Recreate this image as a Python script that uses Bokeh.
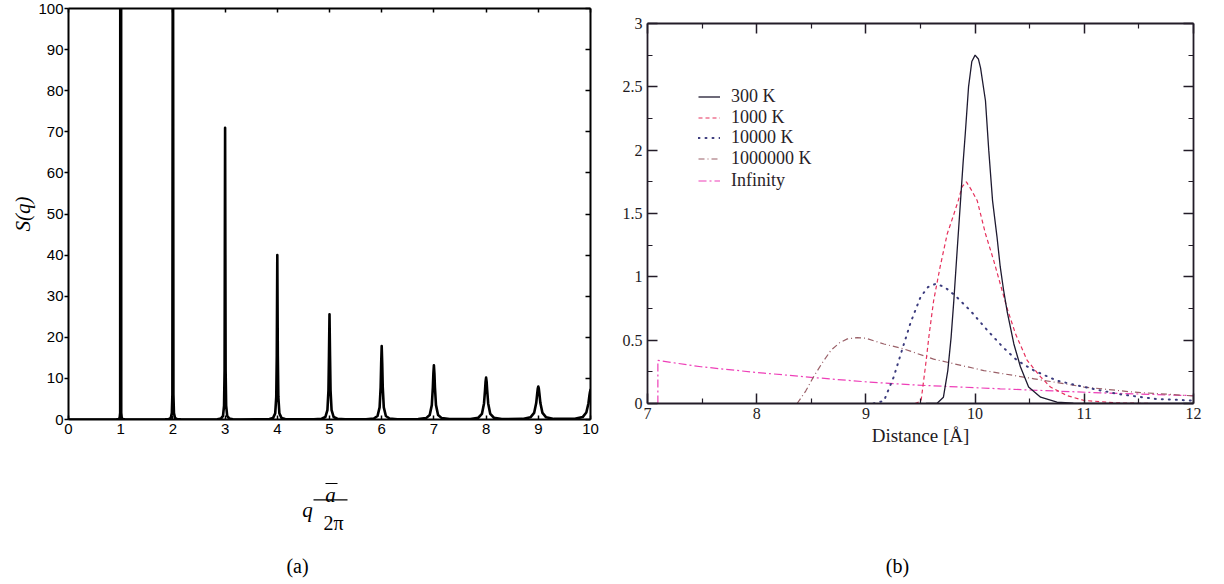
from bokeh.plotting import figure
from bokeh.models import (Range1d, LinearAxis, FixedTicker, Label, Legend,
                          LegendItem, BoxAnnotation)
from bokeh.layouts import row, column
from bokeh.embed import file_html
from bokeh.resources import INLINE

# ---------------- panel (a): structure factor S(q) ----------------
peak_q = [1, 2, 3, 4, 5, 6, 7, 8, 9, 10]
peak_offsets = [-0.3, -0.15, -0.08, -0.04, -0.02, -0.01, 0.0,
                0.01, 0.02, 0.04, 0.08, 0.15, 0.3]
peak_profiles = [
    [0.002, 0.007, 0.025, 0.10, 0.40, 1.6, 640.0, 1.6, 0.40, 0.10, 0.025, 0.007, 0.002],
    [0.007, 0.028, 0.099, 0.39, 1.56, 6.1, 160.0, 6.1, 1.56, 0.39, 0.099, 0.028, 0.007],
    [0.016, 0.063, 0.22, 0.88, 3.4, 11.9, 71.0, 11.9, 3.4, 0.88, 0.22, 0.063, 0.016],
    [0.028, 0.11, 0.39, 1.5, 5.5, 15.5, 40.0, 15.5, 5.5, 1.5, 0.39, 0.11, 0.028],
    [0.044, 0.175, 0.60, 2.26, 7.1, 15.6, 25.6, 15.6, 7.1, 2.26, 0.60, 0.175, 0.044],
    [0.063, 0.25, 0.85, 2.96, 7.9, 13.6, 17.9, 13.6, 7.9, 2.96, 0.85, 0.25, 0.063],
    [0.086, 0.335, 1.1, 3.5, 7.8, 11.2, 13.2, 11.2, 7.8, 3.5, 1.1, 0.335, 0.086],
    [0.11, 0.43, 1.36, 3.9, 7.2, 9.2, 10.2, 9.2, 7.2, 3.9, 1.36, 0.43, 0.11],
    [0.14, 0.53, 1.6, 4.0, 6.4, 7.5, 8.0, 7.5, 6.4, 4.0, 1.6, 0.53, 0.14],
    [0.16, 0.59, 1.7, 3.9, 5.9, 6.7, 7.2, 6.7, 5.9, 3.9, 1.7, 0.59, 0.16],
]
q_start = [0.0]
s_start = [0.0]
q_ticks = [0, 1, 2, 3, 4, 5, 6, 7, 8, 9, 10]
s_ticks = [0, 10, 20, 30, 40, 50, 60, 70, 80, 90, 100]

# ---------------- panel (b): distance distributions ----------------
series_labels = ["300 K", "1000 K", "10000 K", "1000000 K", "Infinity"]

dist_300 = [9.55, 9.65, 9.71, 9.75, 9.78, 9.805, 9.835, 9.865, 9.89, 9.91, 9.94, 9.97,
            10.0, 10.03, 10.05, 10.095, 10.125, 10.16, 10.2, 10.23, 10.26, 10.295,
            10.355, 10.415, 10.49, 10.6, 10.75, 10.9, 11.2, 12.0]
prob_300 = [0.0, 0.0, 0.05, 0.26, 0.52, 0.81, 1.2, 1.58, 1.9, 2.13, 2.5, 2.7,
            2.75, 2.72, 2.65, 2.39, 2.0, 1.6, 1.32, 1.08, 0.9, 0.72,
            0.47, 0.29, 0.13, 0.05, 0.01, 0.003, 0.0, 0.0]

dist_1000 = [9.45, 9.505, 9.545, 9.58, 9.62, 9.68, 9.745, 9.8, 9.845, 9.88, 9.92, 9.97,
             10.02, 10.095, 10.17, 10.23, 10.29, 10.37, 10.477, 10.6, 10.69, 10.84,
             11.0, 11.3, 11.6, 12.0]
prob_1000 = [0.0, 0.02, 0.29, 0.55, 0.81, 1.08, 1.34, 1.48, 1.6, 1.71, 1.75, 1.68,
             1.6, 1.34, 1.13, 0.945, 0.76, 0.55, 0.34, 0.21, 0.13, 0.063,
             0.024, 0.005, 0.0, 0.0]

dist_10000 = [9.07, 9.165, 9.255, 9.33, 9.41, 9.5, 9.57, 9.64, 9.72, 9.82, 9.96, 10.11,
              10.26, 10.385, 10.54, 10.75, 11.0, 11.3, 11.64, 11.97, 12.0]
prob_10000 = [0.0, 0.02, 0.21, 0.42, 0.64, 0.84, 0.92, 0.945, 0.92, 0.85, 0.73, 0.58,
              0.44, 0.34, 0.26, 0.18, 0.13, 0.076, 0.037, 0.024, 0.023]

dist_1e6 = [8.37, 8.45, 8.52, 8.6, 8.68, 8.76, 8.83, 8.92, 9.0, 9.165, 9.35, 9.62,
            10.08, 10.54, 11.0, 11.45, 12.0]
prob_1e6 = [0.0, 0.1, 0.21, 0.32, 0.42, 0.48, 0.51, 0.52, 0.515, 0.47, 0.43, 0.35,
            0.26, 0.195, 0.13, 0.09, 0.06]

dist_inf = [7.095, 7.095, 7.49, 8.0, 8.52, 9.01, 9.47, 10.23, 11.15, 12.0]
prob_inf = [0.0, 0.34, 0.29, 0.245, 0.205, 0.17, 0.145, 0.116, 0.084, 0.062]

dist_ticks = [7, 8, 9, 10, 11, 12]
dist_minor = [7.5, 8.5, 9.5, 10.5, 11.5]
prob_ticks = [0, 0.5, 1, 1.5, 2, 2.5, 3]
prob_minor = [0.25, 0.75, 1.25, 1.75, 2.25, 2.75]

# ---------------- helpers ----------------
def style_axis(ax, font, size, tin, tout, lw=2, color="black"):
    ax.axis_line_width = lw
    ax.axis_line_color = color
    ax.major_tick_line_color = color
    ax.minor_tick_line_color = color
    ax.major_tick_line_width = 1.5
    ax.minor_tick_line_width = 1.2
    ax.major_tick_in = tin
    ax.major_tick_out = tout
    ax.major_label_text_font = font
    ax.major_label_text_font_size = size
    ax.major_label_text_color = "black"


# ---------------- build panel (a) ----------------
q_curve = list(q_start)
s_curve = list(s_start)
for c, prof in zip(peak_q, peak_profiles):
    for o, v in zip(peak_offsets, prof):
        q_curve.append(c + o)
        s_curve.append(v)

pa = figure(width=600, height=450, x_range=Range1d(0, 10), y_range=Range1d(0, 100),
            output_backend="svg", toolbar_location=None,
            x_axis_type=None, y_axis_type=None,
            min_border_left=68, min_border_right=10,
            min_border_top=8, min_border_bottom=31)
pa.outline_line_color = None

pa.line(q_curve, s_curve, line_color="black", line_width=2.6, line_join="round")

ax_b = LinearAxis(ticker=FixedTicker(ticks=q_ticks, minor_ticks=[]))
style_axis(ax_b, "Liberation Sans", "15px", 4, 0)
ax_b.major_label_standoff = 4
pa.add_layout(ax_b, "below")

ax_l = LinearAxis(ticker=FixedTicker(ticks=s_ticks, minor_ticks=[]),
                  axis_label="S(q)")
style_axis(ax_l, "Liberation Sans", "15px", 0, 4)
ax_l.major_label_standoff = 1
ax_l.axis_label_text_font = "Liberation Serif"
ax_l.axis_label_text_font_style = "italic"
ax_l.axis_label_text_font_size = "21px"
ax_l.axis_label_text_color = "black"
ax_l.axis_label_standoff = 0
pa.add_layout(ax_l, "left")

ax_t = LinearAxis(ticker=FixedTicker(ticks=q_ticks, minor_ticks=[]),
                  major_label_overrides={t: "" for t in q_ticks})
style_axis(ax_t, "Liberation Sans", "1px", 4, 0)
ax_t.major_label_standoff = 0
pa.add_layout(ax_t, "above")

ax_r = LinearAxis(ticker=FixedTicker(ticks=s_ticks, minor_ticks=[]),
                  major_label_overrides={t: "" for t in s_ticks})
style_axis(ax_r, "Liberation Sans", "1px", 5, 0)
ax_r.major_label_standoff = 0
pa.add_layout(ax_r, "right")

# ---------------- build panel (b) ----------------
pb = figure(width=616, height=450, x_range=Range1d(7, 12), y_range=Range1d(0, 3),
            output_backend="svg", toolbar_location=None,
            x_axis_type=None, y_axis_type=None,
            min_border_left=47, min_border_right=23,
            min_border_top=23, min_border_bottom=47)
pb.outline_line_color = None

axis_col = "#231c28"


def style_b(ax):
    style_axis(ax, "Liberation Serif", "16px", 10, 0, lw=1.8, color=axis_col)
    ax.minor_tick_in = 5
    ax.minor_tick_out = 0
    ax.major_label_text_color = "#1e1a22"


bx = LinearAxis(ticker=FixedTicker(ticks=dist_ticks, minor_ticks=dist_minor),
                axis_label="Distance [Å]")
style_b(bx)
bx.major_label_standoff = 4
bx.axis_label_text_font = "Liberation Serif"
bx.axis_label_text_font_style = "normal"
bx.axis_label_text_font_size = "19px"
bx.axis_label_text_color = "#1e1a22"
bx.axis_label_standoff = 3
pb.add_layout(bx, "below")
by = LinearAxis(ticker=FixedTicker(ticks=prob_ticks, minor_ticks=prob_minor))
style_b(by)
by.major_label_standoff = 5
pb.add_layout(by, "left")
bt = LinearAxis(ticker=FixedTicker(ticks=dist_ticks, minor_ticks=dist_minor),
                major_label_overrides={t: "" for t in dist_ticks})
style_b(bt)
bt.major_label_text_font_size = "1px"
bt.major_label_standoff = 0
pb.add_layout(bt, "above")
br = LinearAxis(ticker=FixedTicker(ticks=prob_ticks, minor_ticks=prob_minor),
                major_label_overrides={t: "" for t in prob_ticks})
style_b(br)
br.major_label_text_font_size = "1px"
br.major_label_standoff = 0
pb.add_layout(br, "right")

r_inf = pb.line(dist_inf, prob_inf, line_color="#ee3fb8", line_width=1.2,
                line_dash="8 3 2 3")
r_1e6 = pb.line(dist_1e6, prob_1e6, line_color="#9a6068", line_width=1.2,
                line_dash="6 3 1 3")
r_10000 = pb.line(dist_10000, prob_10000, line_color="#3c3c7e", line_width=2,
                  line_dash="1 6", line_cap="round")
r_1000 = pb.line(dist_1000, prob_1000, line_color="#e6305c", line_width=1.2,
                 line_dash="4 3")
r_300 = pb.line(dist_300, prob_300, line_color="#1e1a30", line_width=1.3)

legend_renderers = [r_300, r_1000, r_10000, r_1e6, r_inf]
legend_bottoms = [296.5, 275.5, 255.5, 234.5, 212.5]
for lab, rend, vy in zip(series_labels, legend_renderers, legend_bottoms):
    lg = Legend(items=[LegendItem(label=lab, renderers=[rend])],
                location=(51, vy), margin=0, padding=0, spacing=0,
                glyph_width=22, glyph_height=21, label_height=21,
                label_standoff=11, label_text_font="Liberation Serif",
                label_text_font_size="18px", label_text_color="#2a1e28",
                border_line_color=None, background_fill_alpha=0)
    pb.add_layout(lg)

# ---------------- captions strip ----------------
pc = figure(width=1216, height=130, x_range=Range1d(0, 1216), y_range=Range1d(130, 0),
            output_backend="svg", toolbar_location=None,
            x_axis_type=None, y_axis_type=None,
            min_border_left=0, min_border_right=0,
            min_border_top=0, min_border_bottom=0)
pc.outline_line_color = None

serif = "Liberation Serif"
pc.add_layout(Label(x=307, y=59.5, text="q", text_font=serif, text_font_style="italic",
                    text_font_size="21px", text_align="center",
                    text_baseline="alphabetic", text_color="black"))
pc.add_layout(Label(x=330, y=44.5, text="a", text_font=serif, text_font_style="italic",
                    text_font_size="21px", text_align="center",
                    text_baseline="alphabetic", text_color="black"))
pc.add_layout(BoxAnnotation(left=325, right=337, top=32.4, bottom=33.6,
                            fill_color="black", fill_alpha=1, line_color=None))
pc.add_layout(BoxAnnotation(left=313, right=347, top=48.7, bottom=49.9,
                            fill_color="black", fill_alpha=1, line_color=None))
pc.add_layout(Label(x=333, y=72, text="2π", text_font=serif,
                    text_font_size="20px", text_align="center",
                    text_baseline="alphabetic", text_color="black"))
pc.add_layout(Label(x=297, y=115, text="(a)", text_font=serif,
                    text_font_size="20px", text_align="center",
                    text_baseline="alphabetic", text_color="black"))
pc.add_layout(Label(x=897, y=115, text="(b)", text_font=serif,
                    text_font_size="20px", text_align="center",
                    text_baseline="alphabetic", text_color="black"))

layout = column(row(column(pa), column(pb)), pc)
open("out.html", "w").write(file_html(layout, INLINE))
